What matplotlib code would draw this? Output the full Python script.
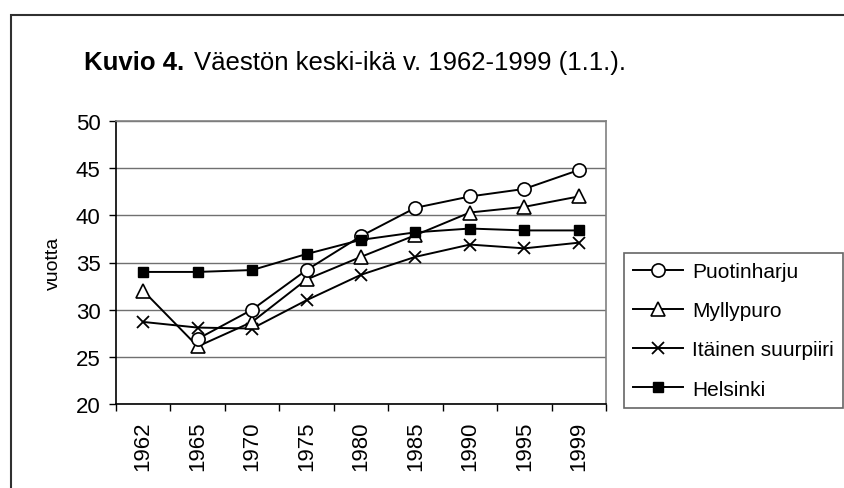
import matplotlib
matplotlib.use("Agg")
import matplotlib.pyplot as plt
import numpy as np
from matplotlib.patches import Rectangle

years = ["1962", "1965", "1970", "1975", "1980", "1985", "1990", "1995", "1999"]
puotinharju = [np.nan, 26.9, 30.0, 34.2, 37.8, 40.8, 42.0, 42.8, 44.8]
myllypuro = [32.0, 26.1, 28.7, 33.2, 35.6, 37.9, 40.3, 40.9, 42.0]
itainen = [28.7, 28.1, 28.0, 31.0, 33.7, 35.6, 36.9, 36.5, 37.1]
helsinki = [34.0, 34.0, 34.2, 35.9, 37.4, 38.2, 38.6, 38.4, 38.4]
series_names = ["Puotinharju", "Myllypuro", "Itäinen suurpiiri", "Helsinki"]
yticks = [20, 25, 30, 35, 40, 45, 50]

plt.rcParams['font.family'] = ['Liberation Sans', 'DejaVu Sans']

fig = plt.figure(figsize=(8.44, 4.89), dpi=100)
ax = fig.add_axes([116/844, 1 - 405/489, (606-116)/844, (405-122)/489])

x = np.arange(len(years))
lw = 1.4
ax.plot(x, puotinharju, color='black', lw=lw, marker='o', ms=9.5, mfc='white', mec='black', mew=1.2, label=series_names[0], zorder=5)
ax.plot(x, myllypuro, color='black', lw=lw, marker='^', ms=10, mfc='white', mec='black', mew=1.2, label=series_names[1], zorder=4)
ax.plot(x, itainen, color='black', lw=lw, marker='x', ms=9, mec='black', mew=1.3, label=series_names[2], zorder=3)
ax.plot(x, helsinki, color='black', lw=lw, marker='s', ms=6.5, mfc='black', mec='black', label=series_names[3], zorder=6)

ax.set_xlim(-0.5, len(years) - 0.5)
ax.set_ylim(20, 50)
ax.set_yticks(yticks)
ax.set_yticklabels([str(v) for v in yticks], fontsize=16)
ax.yaxis.grid(True, color='#707070', lw=1.0)
ax.set_axisbelow(True)

ax.set_xticks(np.arange(-0.5, len(years)), minor=False)
ax.set_xticklabels([])
ax.set_xticks(x, minor=True)
ax.set_xticklabels(years, minor=True, rotation=90, fontsize=16)
ax.tick_params(axis='x', which='major', length=5, width=1, direction='out', color='black')
ax.tick_params(axis='x', which='minor', length=0, pad=12)
ax.tick_params(axis='y', length=5, width=1, direction='out', pad=6)

ax.spines['left'].set_color('black')
ax.spines['bottom'].set_color('black')
ax.spines['left'].set_linewidth(1.2)
ax.spines['bottom'].set_linewidth(1.2)
ax.spines['top'].set_color('#808080')
ax.spines['right'].set_color('#808080')
ax.spines['top'].set_linewidth(1.2)
ax.spines['right'].set_linewidth(1.2)

ax.set_ylabel("vuotta", fontsize=14, labelpad=10)

fig.text(84/844, 1 - 63/489, "Kuvio 4.", fontsize=18.5, fontweight='bold', va='center', ha='left')
fig.text(194/844, 1 - 63/489, "Väestön keski-ikä v. 1962-1999 (1.1.).", fontsize=18.5, va='center', ha='left')

leg = fig.legend(loc='upper left', bbox_to_anchor=(624/844, 1 - 254/489), fontsize=15,
                 frameon=True, fancybox=False, edgecolor='#404040', handlelength=2.4,
                 handletextpad=0.43, labelspacing=0.97, borderpad=0.43, borderaxespad=0)
leg.get_frame().set_linewidth(1.2)

fig.patches.append(Rectangle((11/844, -0.2), 1.2, 1 - 16/489 + 0.2, transform=fig.transFigure,
                             fill=False, edgecolor='#303030', lw=1.5))

fig.savefig("out.png", dpi=100)
